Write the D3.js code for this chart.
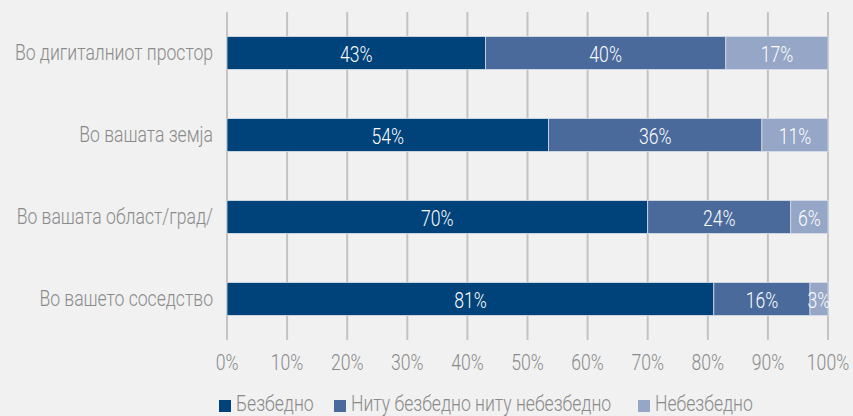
<html>
<head>
<style>
    body { margin: 0; background: #f1f1f1; }
    svg { display: block; }
    text { font-family: Roboto, "DejaVu Sans", sans-serif; font-weight: 300; }
</style>
</head>
<body>
    <svg id="chart" width="853" height="416"></svg>
</body>
<script src="https://d3js.org/d3.v7.min.js"></script>
<script>
    // data
    let categories = ["Во дигиталниот простор", "Во вашата земја", "Во вашата област/град/", "Во вашето соседство"]
    let safe = [43, 53.5, 70, 81]
    let neither = [40, 35.5, 23.8, 16]
    let unsafe = [17, 11, 6.2, 3]
    let seriesNames = ["Безбедно", "Ниту безбедно ниту небезбедно", "Небезбедно"]
    let colors = ["#00427a", "#4a6a9c", "#95a6c6"]
    let ticks = [0, 10, 20, 30, 40, 50, 60, 70, 80, 90, 100]

    let rows = categories.map((c, i) => ({ cat: c, s0: safe[i], s1: neither[i], s2: unsafe[i] }))
    let keys = ["s0", "s1", "s2"]
    let stacked = d3.stack().keys(keys)(rows)

    let svg = d3.select("#chart")
    let squeeze = 0.8 // the original font is condensed
    let fontSize = 22

    let x = d3.scaleLinear().domain([0, 100]).range([227, 828])
    let y = d3.scaleBand().domain(categories).range([12, 340]).paddingInner(0.6).paddingOuter(0.3)

    function place(sel, fx, fy) {
        sel.attr("transform", (d, i) => `translate(${fx(d, i)},${fy(d, i)}) scale(${squeeze},1)`)
            .attr("font-size", fontSize)
    }

    // vertical grid lines
    svg.append("g").selectAll("line")
        .data(ticks)
        .enter().append("line")
        .attr("x1", d => x(d)).attr("x2", d => x(d))
        .attr("y1", 12).attr("y2", 340)
        .attr("stroke", "#c3c3c3")
        .attr("stroke-width", 2)

    // bars
    let layers = svg.append("g").selectAll("g")
        .data(stacked)
        .enter().append("g")
        .attr("fill", (d, i) => colors[i])

    layers.selectAll("rect")
        .data(d => d)
        .enter().append("rect")
        .attr("x", d => x(d[0]))
        .attr("y", d => y(d.data.cat))
        .attr("width", d => x(d[1]) - x(d[0]))
        .attr("height", y.bandwidth())
        .attr("stroke", "#d6dde8")
        .attr("stroke-width", 0.8)

    layers.selectAll("text")
        .data(d => d)
        .enter().append("text")
        .call(place, d => (x(d[0]) + x(d[1])) / 2, d => y(d.data.cat) + y.bandwidth() / 2 + 9)
        .attr("text-anchor", "middle")
        .attr("fill", "#ffffff")
        .text(d => Math.round(d[1] - d[0]) + "%")

    // x axis labels
    svg.append("g").selectAll("text")
        .data(ticks)
        .enter().append("text")
        .call(place, d => x(d), () => 370)
        .attr("text-anchor", "middle")
        .attr("fill", "#8a8a8a")
        .text(d => d + "%")

    // category labels
    svg.append("g").selectAll("text")
        .data(categories)
        .enter().append("text")
        .call(place, () => 213, d => y(d) + y.bandwidth() / 2 + 6.5)
        .attr("text-anchor", "end")
        .attr("fill", "#8a8a8a")
        .text(d => d)

    // legend
    let legendX = [219, 334, 638]
    let legend = svg.append("g").selectAll("g")
        .data(seriesNames)
        .enter().append("g")
        .attr("transform", (d, i) => `translate(${legendX[i]},400)`)
    legend.append("rect")
        .attr("width", 12).attr("height", 12)
        .attr("fill", (d, i) => colors[i])
    legend.append("text")
        .call(place, () => 17, () => 11)
        .attr("fill", "#8a8a8a")
        .text(d => d)
</script>
</html>
